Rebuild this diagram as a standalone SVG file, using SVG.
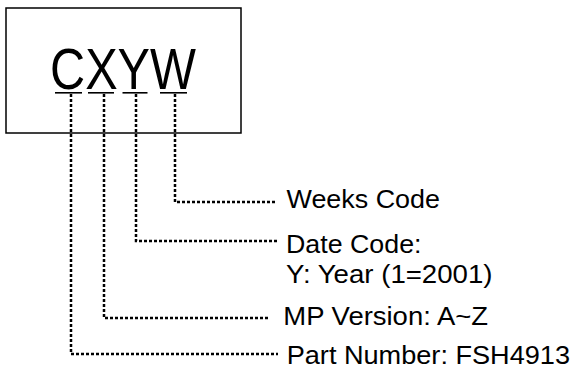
<svg xmlns="http://www.w3.org/2000/svg" width="573" height="370" viewBox="0 0 573 370">
<style>
.lbl{font-family:"Liberation Sans",Arial,sans-serif;font-size:25px;fill:#000}
.big{font-family:"Liberation Sans",Arial,sans-serif;font-size:57px;fill:#000}
.dot{fill:none;stroke:#000;stroke-width:2.5;stroke-dasharray:3 2}
.ul{stroke:#000;stroke-width:1.6}
</style>
<rect width="573" height="370" fill="#fff"/>
<g id="chip">
<rect x="6" y="8" width="235" height="125" fill="#fff" stroke="#000" stroke-width="1.5"/>
<text class="big" x="50" y="88.5" textLength="146" lengthAdjust="spacingAndGlyphs">CXYW</text>
<line class="ul" x1="55" y1="92.8" x2="82" y2="92.8"/>
<line class="ul" x1="88" y1="92.8" x2="114" y2="92.8"/>
<line class="ul" x1="122.5" y1="92.8" x2="147.5" y2="92.8"/>
<line class="ul" x1="160" y1="92.8" x2="187" y2="92.8"/>
</g>
<g id="connectors">
<polyline class="dot" points="71,94 71,354 278,354"/>
<polyline class="dot" points="104,94 104,318 270,318"/>
<polyline class="dot" points="136,94 136,241 278,241"/>
<polyline class="dot" points="175,94 175,202 275,202"/>
</g>
<g id="weeks"><text class="lbl" x="286.5" y="207.7" textLength="153.5" lengthAdjust="spacingAndGlyphs">Weeks Code</text></g>
<g id="date">
<text class="lbl" x="286" y="253" textLength="135.5" lengthAdjust="spacingAndGlyphs">Date Code:</text>
<text class="lbl" x="286" y="283" textLength="206.5" lengthAdjust="spacingAndGlyphs">Y: Year (1=2001)</text>
</g>
<g id="mp"><text class="lbl" x="283.3" y="325" textLength="204.7" lengthAdjust="spacingAndGlyphs">MP Version: A~Z</text></g>
<g id="part"><text class="lbl" x="286.7" y="364.3" textLength="283.3" lengthAdjust="spacingAndGlyphs">Part Number: FSH4913</text></g>
</svg>
